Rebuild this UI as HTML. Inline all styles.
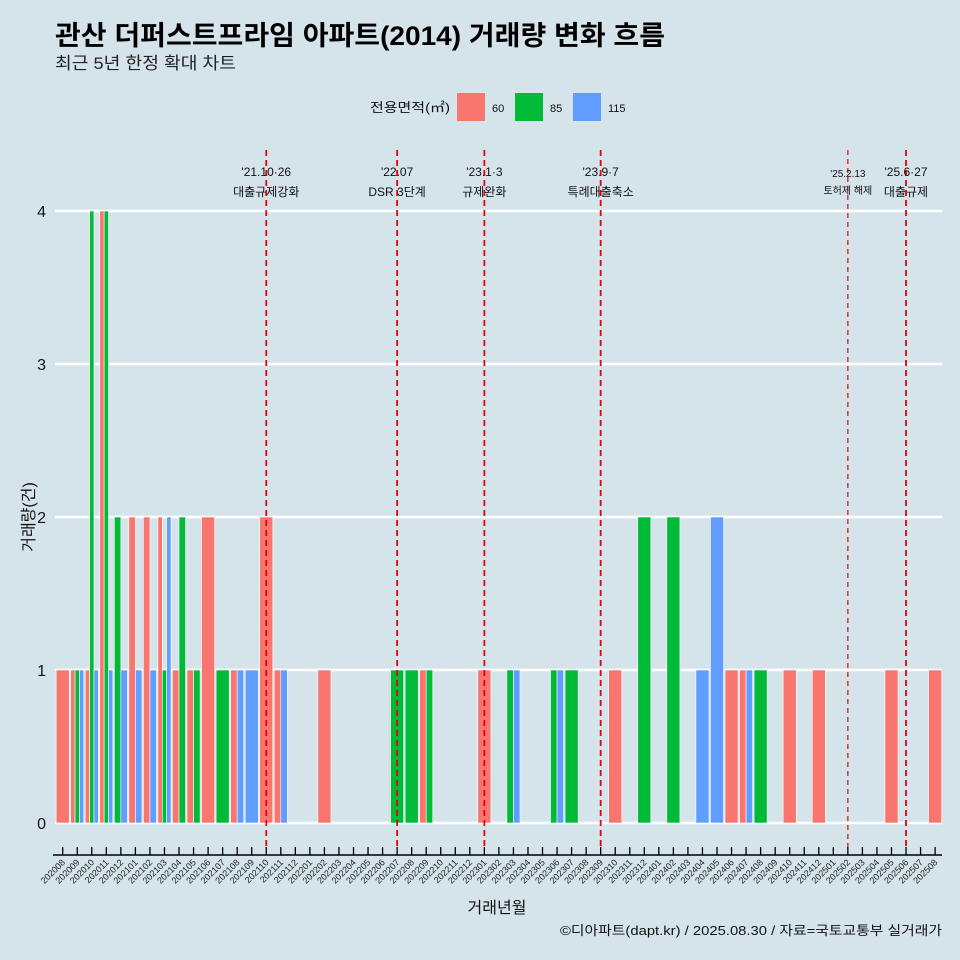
<!DOCTYPE html>
<html><head><meta charset="utf-8">
<style>
body{margin:0;background:#d5e3ea;}
svg{display:block;font-family:"Liberation Sans","Noto Sans CJK KR",sans-serif;}
</style></head>
<body>
<svg id="chart" width="960" height="960" viewBox="0 0 960 960" xmlns="http://www.w3.org/2000/svg">
<rect x="0" y="0" width="960" height="960" fill="#d5e3ea"/>
<text x="55" y="45" font-size="27" font-weight="bold" fill="#000" textLength="610" lengthAdjust="spacingAndGlyphs">관산 더퍼스트프라임 아파트(2014) 거래량 변화 흐름</text>
<text x="55" y="69" font-size="17" fill="#222" textLength="181" lengthAdjust="spacingAndGlyphs">최근 5년 한정 확대 차트</text>
<g>
<text x="370" y="112" font-size="13" fill="#111" textLength="80" lengthAdjust="spacingAndGlyphs">전용면적(㎡)</text>
<rect x="457" y="93" width="28" height="28" fill="#f8766d"/>
<text x="492" y="112" font-size="11" fill="#111">60</text>
<rect x="515" y="93" width="28" height="28" fill="#00ba38"/>
<text x="550" y="112" font-size="11" fill="#111">85</text>
<rect x="573" y="93" width="28" height="28" fill="#619cff"/>
<text x="608" y="112" font-size="11" fill="#111">115</text>
</g>
<g id="grid"></g>
<g id="bars"></g>
<g id="events"></g>
<g id="axes"></g>
<text x="497" y="913" font-size="16" text-anchor="middle" fill="#111">거래년월</text>
<text transform="translate(34,517) rotate(-90)" font-size="16" text-anchor="middle" fill="#111">거래량(건)</text>
<text x="560" y="935" font-size="13" fill="#111" textLength="382" lengthAdjust="spacingAndGlyphs">©디아파트(dapt.kr) / 2025.08.30 / 자료=국토교통부 실거래가</text>
</svg>
<script>
const months = ["202008","202009","202010","202011","202012","202101","202102","202103","202104","202105","202106","202107","202108","202109","202110","202111","202112","202201","202202","202203","202204","202205","202206","202207","202208","202209","202210","202211","202212","202301","202302","202303","202304","202305","202306","202307","202308","202309","202310","202311","202312","202401","202402","202403","202404","202405","202406","202407","202408","202409","202410","202411","202412","202501","202502","202503","202504","202505","202506","202507","202508"];
const s60  = [1,1,1,4,0,2,2,2,1,1,2,0,1,0,2,1,0,0,1,0,0,0,0,0,0,1,0,0,0,1,0,0,0,0,0,0,0,0,1,0,0,0,0,0,0,0,1,1,0,0,1,0,1,0,0,0,0,1,0,0,1];
const s85  = [0,1,4,4,2,0,0,1,2,1,0,1,0,0,0,0,0,0,0,0,0,0,0,1,1,1,0,0,0,0,0,1,0,0,1,1,0,0,0,0,2,0,2,0,0,0,0,0,1,0,0,0,0,0,0,0,0,0,0,0,0];
const s115 = [0,1,1,1,1,1,1,2,0,0,0,0,1,1,0,1,0,0,0,0,0,0,0,0,0,0,0,0,0,0,0,1,0,0,1,0,0,0,0,0,0,0,0,0,1,2,0,1,0,0,0,0,0,0,0,0,0,0,0,0,0];
const yTicks = [0,1,2,3,4];
const eventMonths = ["202110","202207","202301","202309","202502","202506"];
const eventDates = ["'21.10·26","'22.07","'23.1·3","'23.9·7","'25.2.13","'25.6·27"];
const eventNames = ["대출규제강화","DSR 3단계","규제완화","특례대출축소","토허제 해제","대출규제"];

const NS="http://www.w3.org/2000/svg";
const x0=62.7, step=14.54, y0=823, unit=153;
const xs = i => x0 + i*step;
const ys = v => y0 - v*unit;
function mk(tag, attrs, parent){const e=document.createElementNS(NS,tag);for(const k in attrs)e.setAttribute(k,attrs[k]);parent.appendChild(e);return e;}

const grid=document.getElementById('grid');
yTicks.forEach(t=>{
  const l=mk('line',{x1:55,x2:942,y1:ys(t),y2:ys(t),stroke:'#fff','stroke-width':2.5},grid);
  
  
  const tx=mk('text',{x:46,y:ys(t)+6,'font-size':16,'text-anchor':'end',fill:'#111'},grid);
  tx.textContent=t;
  
  
});

const bars=document.getElementById('bars');
const series=[[s60,'#f8766d','60'],[s85,'#00ba38','85'],[s115,'#619cff','115']];
const bw=step*0.9;
months.forEach((m,i)=>{
  const present=series.filter(s=>s[0][i]>0);
  const n=present.length; if(!n) return;
  const w=bw/n;
  present.forEach((s,j)=>{
    const v=s[0][i];
    const r=mk('rect',{x:xs(i)-bw/2+j*w,y:ys(v),width:w,height:ys(0)-ys(v),fill:s[1],stroke:'#fff','stroke-width':0.6},bars);
    
    
  });
});

const ev=document.getElementById('events');
eventMonths.forEach((m,k)=>{
  const i=months.indexOf(m); const x=xs(i);
  const thin = m==="202502";
  const l=mk('line',{x1:x,x2:x,y1:150,y2:848,stroke:'#e8000b','stroke-width':thin?1.2:1.8,'stroke-dasharray':thin?'5,4':'6,4'},ev);
  
  
  const fs = thin?10:12;
  const t1=mk('text',{x:x,y:thin?177:176,'font-size':fs,'text-anchor':'middle',fill:'#111'},ev);
  t1.textContent=eventDates[k];
  
  
  const t2=mk('text',{x:x,y:thin?194:196,'font-size':fs,'text-anchor':'middle',fill:'#111'},ev);
  t2.textContent=eventNames[k];
  
  
});

const ax=document.getElementById('axes');
const al=mk('line',{x1:53,x2:942,y1:855,y2:855,stroke:'#000','stroke-width':1.5},ax);


months.forEach((m,i)=>{
  const x=xs(i);
  const tk=mk('line',{x1:x,x2:x,y1:847,y2:855,stroke:'#000','stroke-width':1.3},ax);
  
  
  const t=mk('text',{x:x+3,y:863,'font-size':9,'text-anchor':'end',fill:'#222',transform:`rotate(-45 ${x+3} 863)`},ax);
  t.textContent=m;
  
  
});
</script>
</body></html>
